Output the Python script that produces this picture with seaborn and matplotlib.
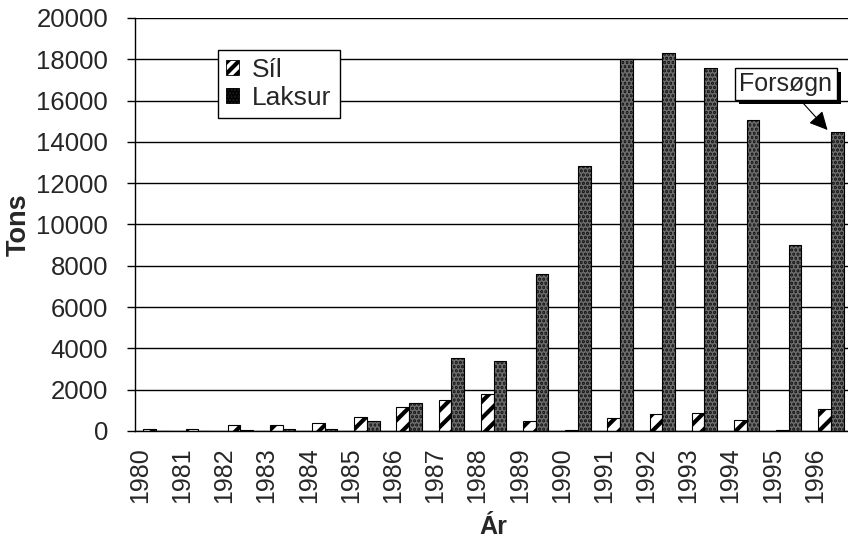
import numpy as np
import pandas as pd
import matplotlib.pyplot as plt
import matplotlib.patheffects as pe
import seaborn as sns

# Values
years = [str(y) for y in range(1980, 1997)]
sil = [100, 100, 300, 300, 400, 680, 1150, 1500, 1800, 480, 50, 620, 820, 850, 530, 30, 1080]
laksur = [0, 0, 50, 120, 100, 500, 1380, 3550, 3400, 7600, 12850, 18000, 18300, 17600, 15050, 9000, 14500]

data = pd.DataFrame({
    "year": years * 2,
    "tons": sil + laksur,
    "kind": ["Síl"] * len(years) + ["Laksur"] * len(years),
})

sns.set_style("white")
plt.rcParams["font.family"] = ["Liberation Sans", "DejaVu Sans"]
plt.rcParams["hatch.linewidth"] = 3.0

fig = plt.figure(figsize=(8.48, 5.41), dpi=100)
ax = fig.add_axes([135 / 848, 1 - 431 / 541, 717 / 848, 413 / 541])

sns.barplot(data=data, x="year", y="tons", hue="kind", ax=ax, width=0.6,
            palette={"Síl": "white", "Laksur": "#1c1c1c"},
            edgecolor="black", linewidth=0.8, saturation=1)

hatches = ["//", "...."]
speck = (0.42, 0.42, 0.42, 1)


def style_patch(p, hatch):
    p.set_hatch(hatch)
    if hatch == "....":
        p._hatch_color = speck


# hatching: stripes for Síl, grey speckles for Laksur
for cont, hatch in zip(ax.containers, hatches):
    for p in cont:
        style_patch(p, hatch)

ax.set_ylim(0, 20000)
ax.set_xlim(-0.5, 16.5)
ax.set_yticks(range(0, 20001, 2000))
ax.yaxis.grid(True, color="black", linewidth=1)
ax.set_axisbelow(True)

for s in ["top", "right"]:
    ax.spines[s].set_visible(False)
for s in ["left", "bottom"]:
    ax.spines[s].set_color("black")
    ax.spines[s].set_linewidth(1)

# year labels sit a little left of the category centre, like the original
ax.set_xticks(np.arange(len(years)) - 0.38, years)
ax.tick_params(axis="x", which="major", length=0, pad=12, labelsize=18, rotation=90)
ax.set_xticks([i + 0.5 for i in range(17)], minor=True)
ax.tick_params(axis="x", which="minor", length=6.5, width=1, color="black", direction="out")
ax.tick_params(axis="y", length=5.8, width=1, color="black", direction="out", labelsize=18.5, pad=13.5)
ax.tick_params(left=True, bottom=True)

ax.set_ylabel("Tons", fontsize=19.5, fontweight="bold", labelpad=3)
ax.set_xlabel("Ár", fontsize=18, fontweight="bold", labelpad=8)

leg = ax.legend(loc="upper left", bbox_to_anchor=(218 / 848, 1 - 50 / 541),
                bbox_transform=fig.transFigure, fontsize=19, frameon=True,
                fancybox=False, handlelength=0.5, handleheight=0.5,
                handletextpad=0.5, borderpad=0.3, labelspacing=0.15,
                borderaxespad=0)
leg.get_frame().set_edgecolor("black")
leg.get_frame().set_linewidth(1)
leg.get_frame().set_alpha(1)
for h, hatch in zip(leg.legend_handles, hatches):
    h.set_edgecolor("black")
    h.set_linewidth(0.6)
    style_patch(h, hatch + hatch[0])

ann = ax.annotate("Forsøgn", xy=(15.92, 14576), xytext=(14.93, 16800),
                  fontsize=18, ha="center", va="center",
                  bbox=dict(boxstyle="square,pad=0.17", fc="white", ec="black", lw=1),
                  arrowprops=dict(arrowstyle="-|>", color="black", lw=0.8,
                                  mutation_scale=28, shrinkA=0, shrinkB=0))
ann.get_bbox_patch().set_path_effects([
    pe.SimplePatchShadow(offset=(3, -3), shadow_rgbFace="black", alpha=1),
    pe.Normal(),
])

fig.savefig("out.png", dpi=100)
